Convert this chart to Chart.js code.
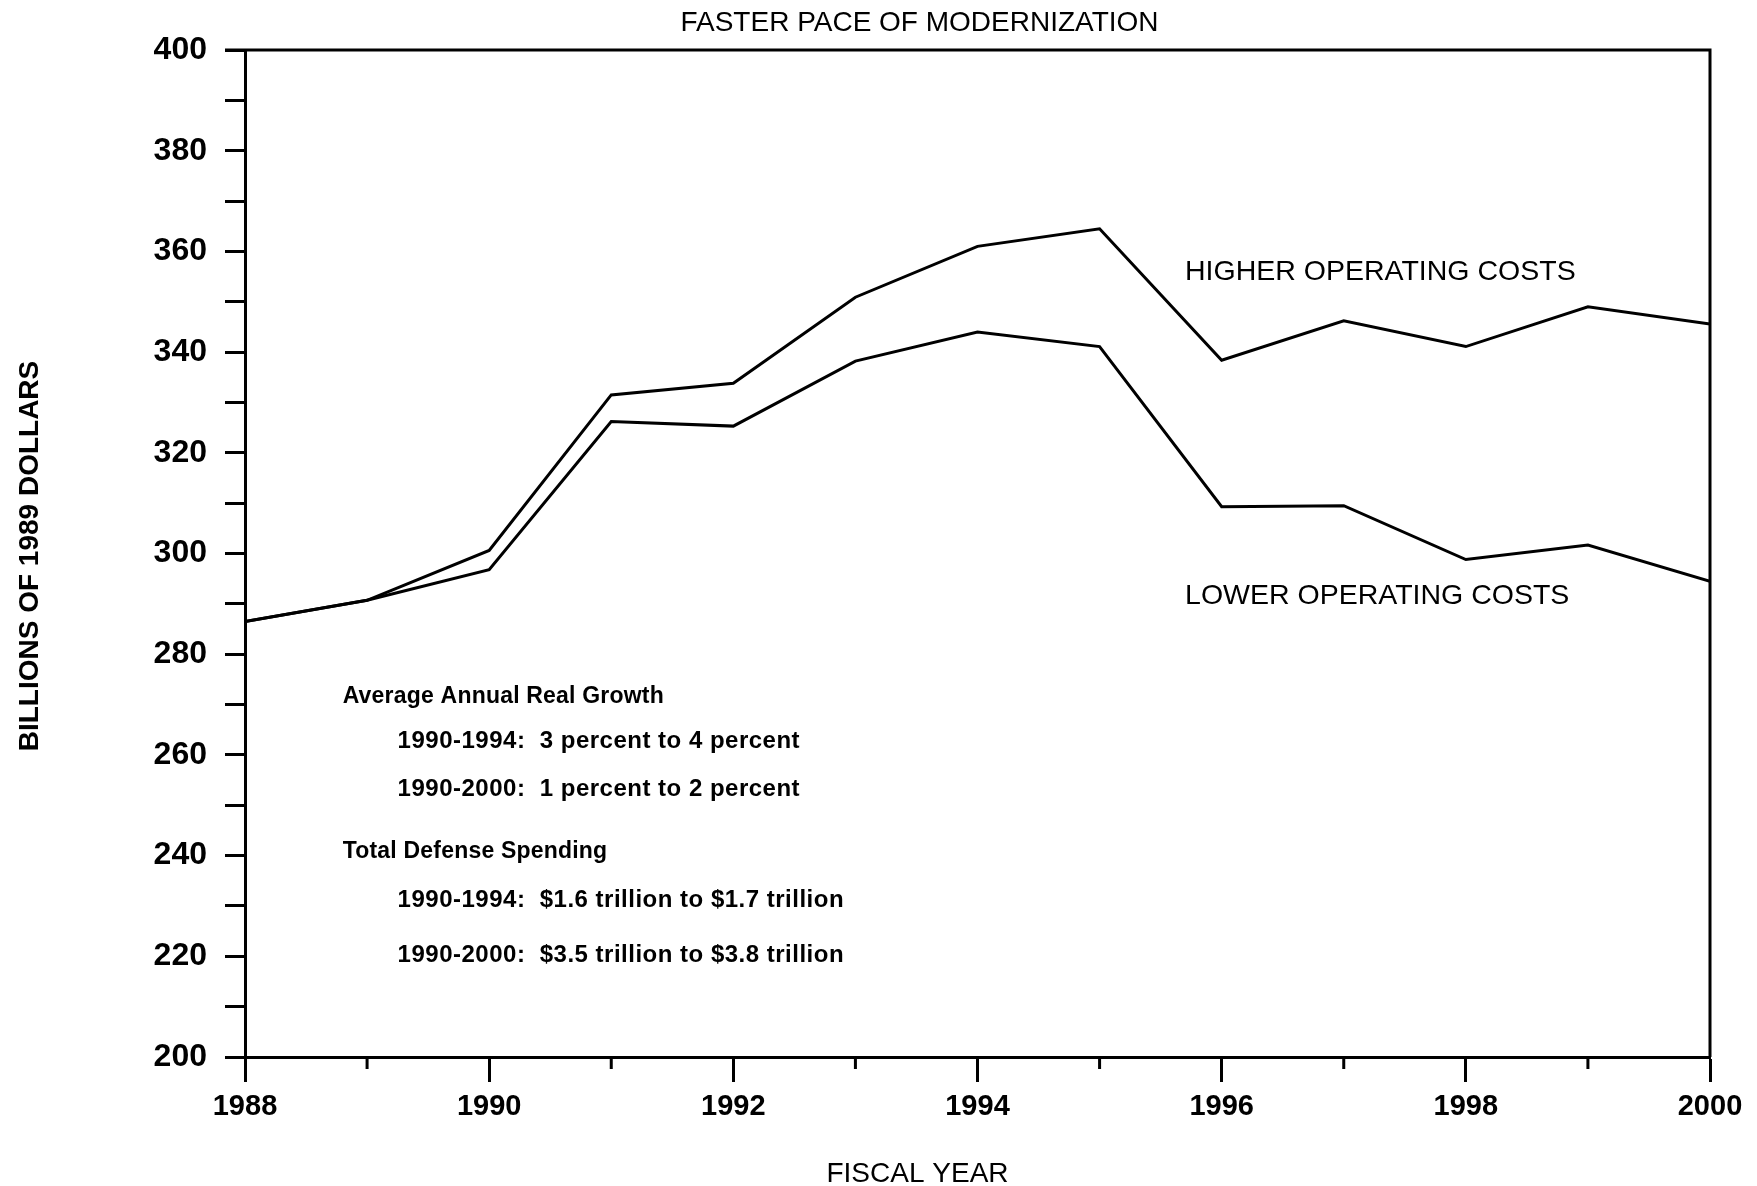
<!DOCTYPE html>
<html>
<head>
<meta charset="utf-8">
<script src="https://cdn.jsdelivr.net/npm/chart.js@4.4.0/dist/chart.umd.min.js"></script>
<style>
html,body{margin:0;padding:0;background:#fff;}
#wrap{width:1757px;height:1186px;position:relative;}
</style>
</head>
<body>
<div id="wrap"><canvas id="c"></canvas></div>
<script>
const years = [1988,1989,1990,1991,1992,1993,1994,1995,1996,1997,1998,1999,2000];
const higherCosts = [286.5,290.7,300.6,331.5,333.8,350.9,361.0,364.5,338.4,346.2,341.1,349.0,345.6];
const lowerCosts  = [286.5,290.7,296.8,326.2,325.3,338.2,344.0,341.1,309.3,309.5,298.8,301.7,294.5];
const chartTitle = 'FASTER PACE OF MODERNIZATION';
const xTitle = 'FISCAL YEAR';
const yTitle = 'BILLIONS OF 1989 DOLLARS';
const seriesLabels = ['HIGHER OPERATING COSTS','LOWER OPERATING COSTS'];
const noteLines = [
  ['Average Annual Real Growth', 0],
  ['1990-1994:  3 percent to 4 percent', 1],
  ['1990-2000:  1 percent to 2 percent', 1],
  ['Total Defense Spending', 0],
  ['1990-1994:  $1.6 trillion to $1.7 trillion', 1],
  ['1990-2000:  $3.5 trillion to $3.8 trillion', 1]
];
const noteYs = [271.5, 262.6, 253.2, 240.7, 231.2, 220.1];

const FONT = '"Liberation Sans", Arial, Helvetica, sans-serif';

const decor = {
  id: 'decor',
  afterDraw(chart) {
    const {ctx, chartArea: a, scales: {x, y}} = chart;
    ctx.save();
    ctx.strokeStyle = '#000';
    ctx.lineWidth = 3;
    ctx.lineCap = 'butt';
    // top & right frame
    ctx.beginPath();
    ctx.moveTo(a.left - 20, a.top);
    ctx.lineTo(a.right + 1.5, a.top);
    ctx.moveTo(a.right, a.top);
    ctx.lineTo(a.right, a.bottom);
    ctx.stroke();
    // minor x ticks (odd years)
    ctx.beginPath();
    years.forEach(v => {
      if (v % 2 !== 0) {
        const px = x.getPixelForValue(v);
        ctx.moveTo(px, a.bottom);
        ctx.lineTo(px, a.bottom + 12);
      }
    });
    ctx.stroke();
    ctx.fillStyle = '#000';
    // title
    ctx.font = '28px ' + FONT;
    ctx.textAlign = 'center';
    ctx.textBaseline = 'middle';
    ctx.fillText(chartTitle, (a.left + a.right) / 2 - 58, 23);
    // x title
    ctx.fillText(xTitle, (a.left + a.right) / 2 - 60, 1174);
    // y title
    ctx.save();
    ctx.font = 'bold 28px ' + FONT;
    ctx.translate(30, 556);
    ctx.rotate(-Math.PI / 2);
    ctx.fillText(yTitle, 0, 0);
    ctx.restore();
    // series labels
    ctx.font = '28.5px ' + FONT;
    ctx.textAlign = 'left';
    ctx.fillText(seriesLabels[0], x.getPixelForValue(1995.7), y.getPixelForValue(355.9));
    ctx.fillText(seriesLabels[1], x.getPixelForValue(1995.7), y.getPixelForValue(291.6));
    // notes
    noteLines.forEach((ln, i) => {
      const xv = ln[1] ? 1989.25 : 1988.8;
      if (ln[1]) {
        ctx.font = 'bold 24px ' + FONT;
        ctx.letterSpacing = '0.5px';
      } else {
        ctx.font = 'bold 23px ' + FONT;
        ctx.letterSpacing = '0.2px';
      }
      ctx.fillText(ln[0], x.getPixelForValue(xv), y.getPixelForValue(noteYs[i]));
    });
    ctx.letterSpacing = '0px';
    ctx.restore();
  }
};

new Chart(document.getElementById('c'), {
  type: 'line',
  data: {
    datasets: [
      { label: seriesLabels[0], data: years.map((v, i) => ({x: v, y: higherCosts[i]})),
        borderColor: '#000', borderWidth: 3, pointRadius: 0, tension: 0, fill: false },
      { label: seriesLabels[1], data: years.map((v, i) => ({x: v, y: lowerCosts[i]})),
        borderColor: '#000', borderWidth: 3, pointRadius: 0, tension: 0, fill: false }
    ]
  },
  options: {
    responsive: true,
    maintainAspectRatio: false,
    animation: false,
    devicePixelRatio: 1,
    layout: { padding: { top: 50, right: 47, left: 0, bottom: 0 } },
    plugins: { legend: { display: false }, tooltip: { enabled: false }, title: { display: false } },
    scales: {
      x: {
        type: 'linear', min: 1988, max: 2000,
        afterFit(s) { s.height = 129; },
        ticks: {
          stepSize: 1, autoSkip: false, maxRotation: 0, padding: 8,
          color: '#000', font: { family: FONT, size: 29, weight: 'bold' },
          callback: v => (v % 2 === 0 ? String(v) : '')
        },
        grid: {
          drawOnChartArea: false, drawTicks: true, tickLength: 25, tickWidth: 3,
          tickColor: ctx => (ctx.tick && ctx.tick.value % 2 === 0 ? '#000' : 'rgba(0,0,0,0)')
        },
        border: { display: true, color: '#000', width: 3 }
      },
      y: {
        type: 'linear', min: 200, max: 400,
        afterFit(s) { s.width = 245; },
        ticks: {
          stepSize: 10, autoSkip: false, padding: 18,
          color: '#000', font: { family: FONT, size: 32, weight: 'bold' },
          callback: v => (v % 20 === 0 ? String(v) : '')
        },
        grid: { drawOnChartArea: false, drawTicks: true, tickLength: 20, tickWidth: 3, tickColor: '#000' },
        border: { display: true, color: '#000', width: 3 }
      }
    }
  },
  plugins: [decor]
});
</script>
</body>
</html>
